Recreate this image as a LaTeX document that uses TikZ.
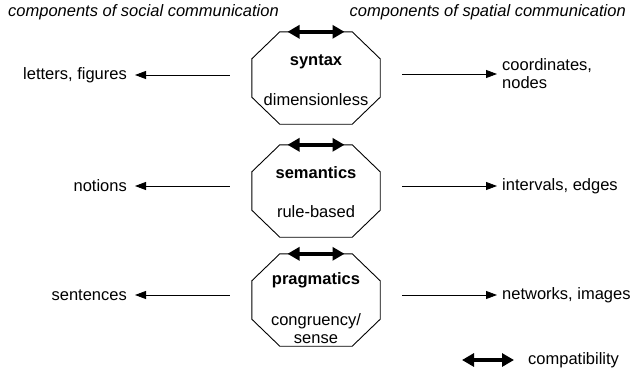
\documentclass[tikz,border=0pt]{standalone}
\usepackage{fontspec}
\setmainfont{Liberation Sans}
\usetikzlibrary{arrows.meta,positioning}
% chamfered outline round a named box
\newcommand{\octpath}[1]{%
  \draw[line width=0.9pt]
    ([xshift=28pt]#1.north west) -- ([xshift=-28pt]#1.north east)
    -- ([yshift=-27pt]#1.north east) -- ([yshift=27pt]#1.south east)
    -- ([xshift=-28pt]#1.south east) -- ([xshift=28pt]#1.south west)
    -- ([yshift=27pt]#1.south west) -- ([yshift=-27pt]#1.north west) -- cycle;}
\begin{document}
\begin{tikzpicture}[x=1pt,y=-1pt,
  every node/.style={font=\fontsize{16.5}{18}\selectfont,inner sep=0pt},
  octa/.style={rectangle,minimum width=128pt,minimum height=92pt},
  compat/.style={line width=4.5pt,
    {Triangle[length=12pt,width=13pt]}-{Triangle[length=12pt,width=13pt]}},
  side/.style={line width=0.8pt,-{Triangle[length=11pt,width=8pt]}},
  head/.style={font=\fontsize{16.5}{18}\selectfont\itshape}]
  \useasboundingbox (0,0) rectangle (632,376);

  \node[head,anchor=west] (hsoc) at (8,12) {components of social communication};
  \node[head,anchor=east] (hspa) at (626,12) {components of spatial communication};

  % syntax
  \node[octa] (syn) at (316,78) {};
  \octpath{syn}
  \node[font=\fontsize{16.5}{18}\selectfont\bfseries] at (316,62) {syntax};
  \node at (316,100) {dimensionless};
  \node[anchor=east] (letters) at (127,75) {letters, figures};
  \node[anchor=west,align=left] (coords) at (502,74) {coordinates,\\nodes};

  % semantics
  \node[octa] (sem) at (316,191) {};
  \octpath{sem}
  \node[font=\fontsize{16.5}{18}\selectfont\bfseries] at (316,173) {semantics};
  \node at (316,212) {rule-based};
  \node[anchor=east] (notions) at (127,186) {notions};
  \node[anchor=west] (edges) at (502,186) {intervals, edges};

  % pragmatics
  \node[octa] (prag) at (316,300) {};
  \octpath{prag}
  \node[font=\fontsize{16.5}{18}\selectfont\bfseries] at (316,280) {pragmatics};
  \node[align=center] at (316,329) {congruency/\\sense};
  \node[anchor=east] (sent) at (127,295) {sentences};
  \node[anchor=west] (nets) at (502,295) {networks, images};

  % compatibility arrows
  \draw[compat] ([xshift=-28.5pt]syn.north) -- ([xshift=28.5pt]syn.north);
  \draw[compat] ([xshift=-28.5pt]sem.north) -- ([xshift=28.5pt]sem.north);
  \draw[compat] ([xshift=-28.5pt]prag.north) -- ([xshift=28.5pt]prag.north);

  % side arrows
  \draw[side] ([xshift=-22pt]syn.west |- letters.east) -- ([xshift=8pt]letters.east);
  \draw[side] ([xshift=22pt]syn.east |- coords.west) -- ([xshift=-5pt]coords.west);
  \draw[side] ([xshift=-22pt]sem.west |- notions.east) -- ([xshift=8pt]notions.east);
  \draw[side] ([xshift=22pt]sem.east |- edges.west) -- ([xshift=-5pt]edges.west);
  \draw[side] ([xshift=-22pt]prag.west |- sent.east) -- ([xshift=8pt]sent.east);
  \draw[side] ([xshift=22pt]prag.east |- nets.west) -- ([xshift=-5pt]nets.west);

  % legend
  \coordinate (legA) at (462,360);
  \coordinate (legB) at (514,360);
  \draw[compat] (legA) -- (legB);
  \node[anchor=west] (legtxt) at (528,360) {compatibility};
\end{tikzpicture}
\end{document}
